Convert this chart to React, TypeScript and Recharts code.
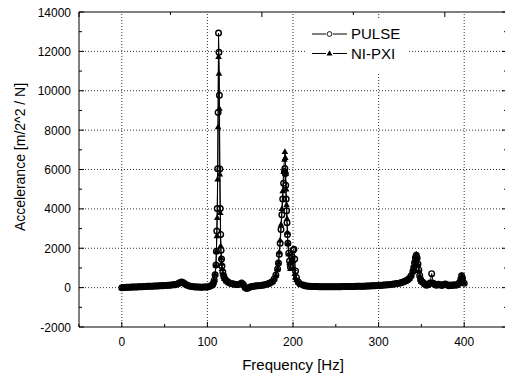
import React from "react";
import {
  LineChart, Line, XAxis, YAxis, ReferenceLine,
} from "recharts";

// frequency grid [Hz] shared by both measurements (denser around the peaks)
const freq = [
  0, 2, 4, 6, 8, 10, 12, 14, 16, 18, 20, 22, 24, 26, 28, 30, 32, 34, 36, 38,
  40, 42, 44, 46, 48, 50, 52, 54, 56, 58, 60, 62, 64, 66, 68, 70, 72, 74, 76, 78,
  80, 82, 84, 86, 88, 90, 92, 94, 96, 98, 100, 102, 104,
  106, 107, 108, 109, 110, 110.5, 111, 111.5, 112, 112.5, 113, 113.5, 114, 114.5,
  115, 115.5, 116, 116.5, 117, 118, 119, 120, 122,
  124, 126, 128, 130, 132, 134, 136, 138, 140, 142, 144, 146, 148, 150, 152, 154,
  156, 158, 160, 162, 164, 166, 168, 170, 172, 174, 176,
  178, 180, 182, 183, 184, 185, 186, 187, 188, 189, 190, 190.5, 191, 191.5, 192,
  192.5, 193, 193.5, 194, 195, 196, 197, 198, 199, 200, 201, 202, 203, 204, 206, 208,
  212, 214, 216, 218, 220, 222, 224, 226, 228, 230, 232, 234, 236, 238, 240, 242,
  244, 246, 248, 250, 252, 254, 256, 258, 260, 262, 264, 266, 268, 270, 272, 274,
  276, 278, 280, 282, 284, 286, 288, 290, 292, 294, 296, 298, 300, 302, 304, 306,
  308, 310, 312, 314, 316, 318, 320, 322, 324, 326, 328, 330, 332, 334, 336,
  338, 340, 341, 342, 343, 344, 345, 346, 347, 348, 349, 350,
  352, 354, 356, 358, 360, 362, 364, 366, 368, 370, 372, 374, 376, 378, 380, 382,
  384, 386, 388, 390, 392, 394, 396, 397, 398, 400,
];

const pulse = [
  0, 5, 10, 14, 18, 22, 26, 30, 34, 38, 42, 46, 50, 55, 60, 64, 68, 72, 76, 80,
  84, 88, 92, 96, 100, 106, 112, 118, 124, 132, 140, 150, 170, 210, 260, 280, 245, 185, 135, 95,
  70, 55, 45, 38, 32, 28, 25, 24, 26, 30, 38, 55, 90,
  150, 230, 380, 650, 1150, 1850, 2870, 4020, 6040, 8900, 12930, 11950, 9770, 6030,
  4020, 2700, 1900, 1450, 1100, 800, 600, 480, 360,
  290, 240, 210, 190, 175, 165, 165, 185, 240, 160, 10, -50, -10, 30, 55, 70,
  80, 90, 100, 110, 122, 138, 158, 185, 215, 255, 305,
  440, 640, 950, 1250, 1700, 2250, 2950, 3700, 4500, 5300, 5900, 6050, 5800, 5200, 4500,
  3900, 3300, 2700, 2250, 1750, 1350, 1050, 1150, 1550, 1900, 1950, 1450, 850, 520, 300, 200,
  130, 100, 85, 75, 68, 62, 58, 55, 52, 50, 48, 47, 46, 45, 45, 45,
  45, 46, 46, 47, 48, 49, 50, 51, 52, 54, 55, 57, 58, 60, 62, 64,
  66, 68, 70, 73, 76, 79, 82, 86, 90, 94, 98, 103, 108, 114, 120, 127,
  134, 142, 150, 160, 170, 182, 195, 210, 228, 250, 275, 305, 345, 400, 480,
  600, 820, 1020, 1280, 1520, 1650, 1500, 1200, 900, 620, 420, 320,
  260, 180, 120, 160, 240, 710, 220, 150, 120, 170, 140, 110, 160, 190, 140, 100,
  130, 110, 150, 120, 140, 230, 430, 600, 480, 220,
];

const nipxi = [
  0, 4, 9, 13, 17, 21, 25, 29, 33, 37, 41, 45, 49, 53, 58, 62, 66, 70, 74, 78,
  82, 86, 90, 94, 98, 104, 110, 116, 122, 130, 138, 148, 168, 205, 255, 275, 240, 180, 130, 92,
  68, 54, 44, 37, 31, 27, 24, 23, 25, 29, 37, 54, 95,
  160, 240, 400, 680, 1140, 1860, 2620, 3550, 5500, 8150, 11720, 10870, 9090, 5750,
  3800, 2110, 1500, 1220, 950, 720, 560, 450, 340,
  280, 235, 205, 185, 170, 160, 160, 180, 230, 150, 0, -60, -15, 25, 50, 65,
  75, 85, 95, 105, 118, 134, 155, 180, 210, 250, 300,
  430, 630, 950, 1280, 1800, 2400, 3200, 4000, 4900, 5900, 6500, 6900, 6600, 5800, 5000,
  4200, 3500, 2800, 2250, 1700, 1250, 950, 1300, 1500, 1350, 950, 700, 500, 400, 270, 190,
  125, 95, 80, 70, 64, 58, 54, 51, 49, 47, 45, 44, 43, 42, 42, 42,
  42, 43, 43, 44, 45, 46, 47, 48, 49, 51, 52, 54, 55, 57, 59, 61,
  63, 65, 67, 70, 73, 76, 79, 83, 87, 91, 95, 100, 105, 111, 117, 124,
  131, 139, 147, 157, 167, 179, 192, 207, 225, 247, 272, 300, 340, 395, 470,
  620, 850, 1060, 1320, 1580, 1690, 1520, 1180, 860, 600, 400, 300,
  250, 170, 110, 150, 220, 260, 200, 140, 110, 160, 130, 100, 150, 180, 130, 90,
  120, 100, 140, 110, 130, 220, 420, 620, 500, 230,
];

const xTicks = [-50, 0, 50, 100, 150, 200, 250, 300, 350, 400, 450];
const xLabels = [0, 100, 200, 300, 400];
const yTicks = [
  -2000, -1000, 0, 1000, 2000, 3000, 4000, 5000, 6000, 7000, 8000,
  9000, 10000, 11000, 12000, 13000, 14000,
];
const yLabels = [-2000, 0, 2000, 4000, 6000, 8000, 10000, 12000, 14000];
const xGrid = [0, 100, 200, 300, 400];
const yGrid = [0, 2000, 4000, 6000, 8000, 10000, 12000];

const data = freq.map((f, i) => ({ f, pulse: pulse[i], nipxi: nipxi[i] }));

const FONT = "'Liberation Sans', Arial, Helvetica, sans-serif";

const LeftTick = ({ x, y, payload }: any) => {
  const v = payload.value;
  const major = yLabels.includes(v);
  return (
    <g>
      <line x1={x + 8} x2={x + 8 + (major ? 5 : 3)} y1={y} y2={y} stroke="#000" />
      {major && (
        <text x={x} y={y} dy={4.5} textAnchor="end" fontSize={12} fontFamily={FONT} fill="#000">
          {v}
        </text>
      )}
    </g>
  );
};

const RightTick = ({ x, y, payload }: any) => {
  const major = yLabels.includes(payload.value);
  return <line x1={x} x2={x - (major ? 5 : 3)} y1={y} y2={y} stroke="#000" />;
};

const BottomTick = ({ x, y, payload }: any) => {
  const v = payload.value;
  const major = v % 100 === 0;
  return (
    <g>
      <line x1={x} x2={x} y1={y} y2={y - (major ? 5 : 3)} stroke="#000" />
      {xLabels.includes(v) && (
        <text x={x} y={y} dy={19} textAnchor="middle" fontSize={12} fontFamily={FONT} fill="#000">
          {v}
        </text>
      )}
    </g>
  );
};

const TopTick = ({ x, y, payload }: any) => {
  const major = payload.value % 100 === 0;
  return <line x1={x} x2={x} y1={y} y2={y + (major ? 5 : 3)} stroke="#000" />;
};

const CircleDot = (props: any) => {
  const { cx, cy, index } = props;
  return <circle key={`c${index}`} cx={cx} cy={cy} r={2.8} fill="none" stroke="#000" strokeWidth={1.4} />;
};

const TriangleDot = (props: any) => {
  const { cx, cy, index } = props;
  return (
    <path
      key={`t${index}`}
      d={`M${cx},${cy - 3.6} L${cx + 3.3},${cy + 2.2} L${cx - 3.3},${cy + 2.2} Z`}
      fill="#000"
    />
  );
};

const Legend = () => (
  <svg width={505} height={80} style={{ position: "absolute", left: 0, top: 0, pointerEvents: "none" }}>
    <rect x={305} y={19} width={103} height={53} fill="#fff" />
    <line x1={312} x2={326} y1={34} y2={34} stroke="#000" />
    <line x1={333} x2={347} y1={34} y2={34} stroke="#000" />
    <circle cx={329.5} cy={34} r={2.4} fill="#fff" stroke="#000" strokeWidth={0.9} />
    <text x={351} y={38.5} fontSize={15} fontFamily={FONT} fill="#000">PULSE</text>
    <line x1={312} x2={326} y1={53.5} y2={53.5} stroke="#000" />
    <line x1={333} x2={347} y1={53.5} y2={53.5} stroke="#000" />
    <path d="M329.5,50.3 L332.5,55.5 L326.5,55.5 Z" fill="#000" />
    <text x={351} y={58.5} fontSize={15} fontFamily={FONT} fill="#000">NI-PXI</text>
  </svg>
);

export default function App() {
  return (
    <div style={{ position: "fixed", left: 0, top: 0, width: 505, height: 378, overflow: "hidden", background: "#fff" }}>
      <LineChart width={510} height={378} data={data} margin={{ top: 0, right: 0, bottom: 0, left: 0 }}>
        <XAxis
          xAxisId="x" dataKey="f" type="number" domain={[-50, 450]} ticks={xTicks}
          interval={0} tickSize={0} tickMargin={0} height={51} allowDataOverflow
          axisLine={{ stroke: "#000" }} tickLine={false} tick={<BottomTick />}
          label={{ value: "Frequency [Hz]", position: "insideBottom", offset: 8, fontSize: 15, fontFamily: FONT, fill: "#000" }}
        />
        <XAxis
          xAxisId="top" orientation="top" type="number" domain={[-50, 450]} ticks={xTicks}
          interval={0} tickSize={0} tickMargin={0} height={12} allowDataOverflow
          axisLine={{ stroke: "#000" }} tickLine={false} tick={<TopTick />}
        />
        <YAxis
          yAxisId="y" type="number" domain={[-2000, 14000]} ticks={yTicks}
          interval={0} tickSize={0} tickMargin={8} width={79} allowDataOverflow
          axisLine={{ stroke: "#000" }} tickLine={false} tick={<LeftTick />}
          label={{
            content: () => (
              <text x={24.5} y={157} transform="rotate(-90 24.5 157)" textAnchor="middle"
                fontSize={14} fontFamily={FONT} fill="#000">
                Accelerance [m/2^2 / N]
              </text>
            ),
          }}
        />
        <YAxis
          yAxisId="right" orientation="right" type="number" domain={[-2000, 14000]} ticks={yTicks}
          interval={0} tickSize={0} tickMargin={0} width={3} allowDataOverflow
          axisLine={{ stroke: "#000" }} tickLine={false} tick={<RightTick />}
        />
        {xGrid.map((v) => (
          <ReferenceLine key={`gx${v}`} xAxisId="x" yAxisId="y" x={v} stroke="#333" strokeDasharray="1 2" />
        ))}
        {yGrid.map((v) => (
          <ReferenceLine key={`gy${v}`} xAxisId="x" yAxisId="y" y={v} stroke="#333" strokeDasharray="1 2" />
        ))}
        <Line
          xAxisId="x" yAxisId="y" type="linear" dataKey="nipxi" name="NI-PXI"
          stroke="#000" strokeWidth={1} dot={TriangleDot} activeDot={false}
          isAnimationActive={false}
        />
        <Line
          xAxisId="x" yAxisId="y" type="linear" dataKey="pulse" name="PULSE"
          stroke="#000" strokeWidth={1} dot={CircleDot} activeDot={false}
          isAnimationActive={false}
        />
      </LineChart>
      <Legend />
    </div>
  );
}
